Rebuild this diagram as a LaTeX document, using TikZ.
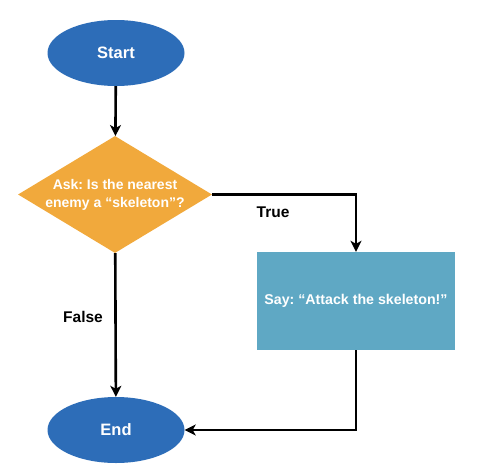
\documentclass[tikz,border=0pt]{standalone}
\usepackage{fontspec}
\setmainfont{Liberation Sans}
\usepackage{xcolor}
\usepackage{tikz}
\usetikzlibrary{shapes,arrows,positioning,calc,arrows.meta}
\frenchspacing

\definecolor{termblue}{HTML}{2D6DB8}
\definecolor{askorange}{HTML}{F1A93C}
\definecolor{saycyan}{HTML}{5FA8C4}

\begin{document}
\begin{tikzpicture}[
    x=1pt, y=-1pt,
    terminal/.style={ellipse, fill=termblue, minimum width=137pt, minimum height=66pt, text=white, font=\bfseries\fontsize{16.5}{18}\selectfont},
    decision/.style={diamond, fill=askorange, aspect=1.66, inner sep=0pt, minimum width=194pt, minimum height=117pt, text=white, align=center, font=\bfseries\fontsize{14}{18}\selectfont},
    action/.style={rectangle, fill=saycyan, minimum width=198pt, minimum height=98pt, text=white, font=\bfseries\fontsize{14.2}{16}\selectfont},
    flowlabel/.style={font=\bfseries\fontsize{15.5}{17}\selectfont},
    flow/.style={line width=2.6pt, -{Stealth[length=11pt,width=11pt,inset=3pt]}}
]
    \useasboundingbox (0,0) rectangle (479,474);

    \node[terminal] (start) at (116,53) {Start};
    \node[decision] (ask) at (115,194.5) {Ask: Is the nearest\\enemy a “skeleton”?};
    \node[action] (say) at (356,301) {Say: “Attack the skeleton!”};
    \node[terminal] (finish) at (116,430) {End};

    \node[flowlabel] (truelbl) at (273,212) {True};
    \node[flowlabel] (falselbl) at (83,317) {False};

    \draw[flow] (start) -- (ask);
    \draw[flow] (ask) -- (finish);
    \draw[flow] (ask.east) -| (say.north);
    \draw[flow] (say.south) |- (finish.east);
\end{tikzpicture}
\end{document}
